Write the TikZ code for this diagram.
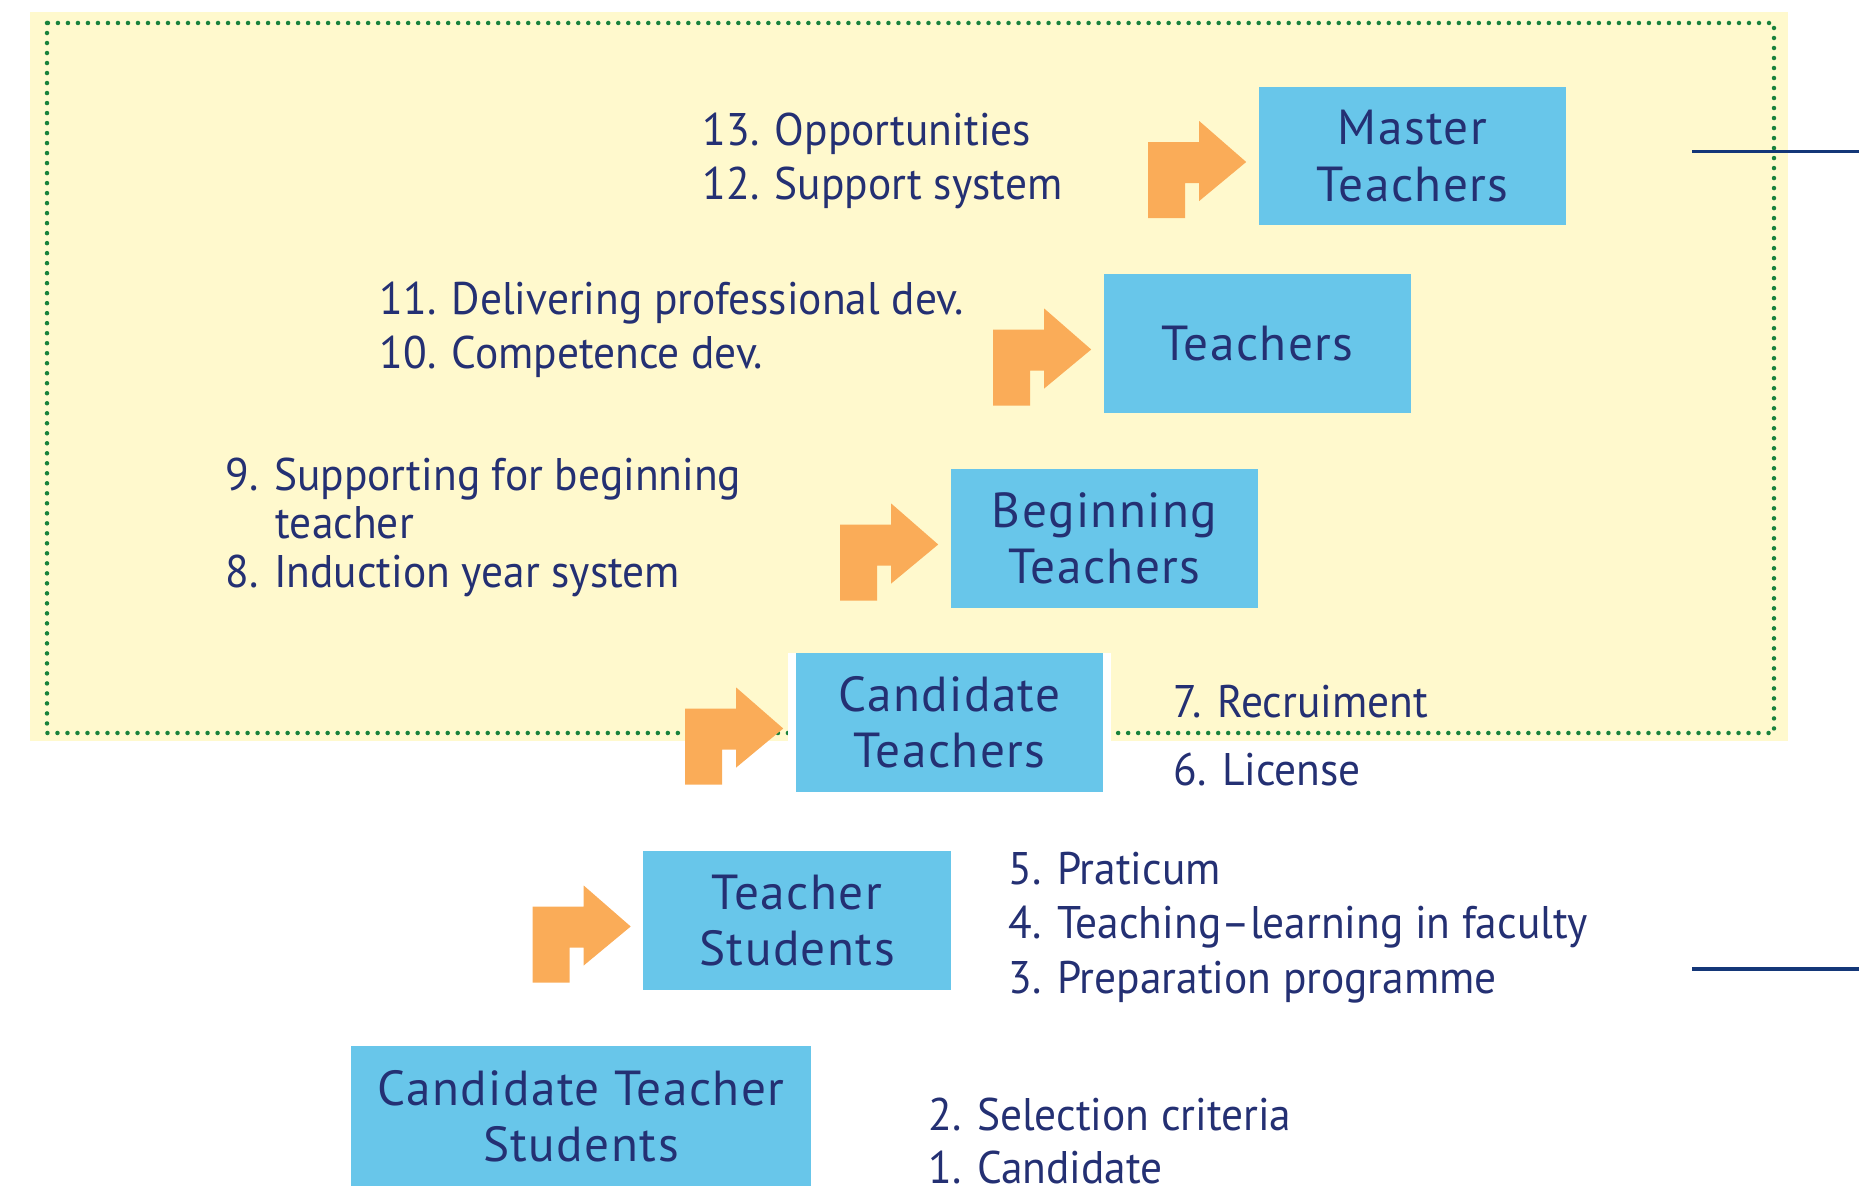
\documentclass[tikz,border=0pt]{standalone}
\usepackage{fontspec}
\setmainfont{PT Sans}
\newfontfamily\stagefont[LetterSpace=3]{PT Sans}
\newfontfamily\itemfont[FakeStretch=0.95]{PT Sans}
\usetikzlibrary{positioning}
\definecolor{navy}{RGB}{36,48,115}
\definecolor{boxblue}{RGB}{104,198,234}
\definecolor{arrowor}{RGB}{250,172,88}
\definecolor{paleyel}{RGB}{255,249,205}
\definecolor{dotgreen}{RGB}{25,130,60}
\definecolor{rulenavy}{RGB}{20,55,120}
\tikzset{
  stage/.style={fill=boxblue, text=navy, minimum width=3.07cm, minimum height=1.38cm,
    inner sep=0pt, align=center, font=\stagefont\fontsize{14}{16}\selectfont},
  item/.style={anchor=base west, inner sep=0pt, text=navy, font=\itemfont\fontsize{13}{15.4}\selectfont},
  bentfill/.style={fill=arrowor},
}
\newcommand{\bentarrow}[1]{\fill[bentfill] ([xshift=-0.12cm,yshift=-0.06cm]#1.west) -- ++(-47,-41) -- ++(0,21) -- ++(-51,0) -- ++(0,76) -- ++(37,0) -- ++(0,-35) -- ++(14,0) -- ++(0,18) -- cycle;}
\begin{document}
\begin{tikzpicture}[x=0.01cm, y=-0.01cm]
    \useasboundingbox (0,0) rectangle (1859,1191);
    \fill[paleyel] (30,12) rectangle (1788,741);
    \draw[dotgreen, line width=0.045cm, line cap=round, dash pattern=on 0pt off 0.1cm] (47,23) rectangle (1774,733);

    \fill[white] (788,653) rectangle (1111,792);
    \node[stage] (master) at (1412.5,156) {Master\\Teachers};
    \node[stage] (teach) at (1257.5,343.5) {Teachers};
    \node[stage] (begin) at (1104.5,538.5) {Beginning\\Teachers};
    \node[stage] (cand) at (949.5,722.5) {Candidate\\Teachers};
    \node[stage] (stud) at (797,920.5) {Teacher\\Students};
    \node[stage, minimum width=4.6cm, minimum height=1.4cm] (cstud) at (581,1116) {Candidate Teacher\\Students};

    \bentarrow{master}
    \bentarrow{teach}
    \bentarrow{begin}
    \bentarrow{cand}
    \bentarrow{stud}

    \node[item] (l13) at (702,146) {13. Opportunities};
    \node[item] (l12) at (702,200) {12. Support system};
    \node[item] (l11) at (379,315) {11. Delivering professional dev.};
    \node[item] (l10) at (379,369) {10. Competence dev.};
    \node[item] (l9) at (225,491) {9. Supporting for beginning};
    \node[item] (l9b) at (275,539) {teacher};
    \node[item] (l8) at (225,588) {8. Induction year system};
    \node[item] (l7) at (1173,718) {7. Recruiment};
    \node[item] (l6) at (1173,785) {6. License};
    \node[item] (l5) at (1008,885) {5. Praticum};
    \node[item] (l4) at (1008,939) {4. Teaching–learning in faculty};
    \node[item] (l3) at (1008,994) {3. Preparation programme};
    \node[item] (l2) at (928,1130) {2. Selection criteria};
    \node[item] (l1) at (928,1183) {1. Candidate};

    \coordinate (topa) at (1692,152);
    \coordinate (topb) at (1859,152);
    \coordinate (bota) at (1692,969);
    \coordinate (botb) at (1859,969);
    \draw[rulenavy, line width=0.03cm] (topa) -- (topb);
    \draw[rulenavy, line width=0.03cm] (bota) -- (botb);
\end{tikzpicture}
\end{document}
